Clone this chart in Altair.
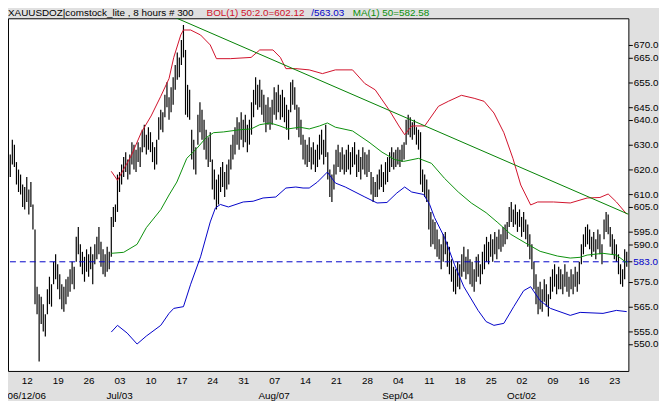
import altair as alt
import pandas as pd

# ---------------- data ----------------
HIGH = [
    626, 632, 630, 623, 620, 618, 614, 613, 617, 612,
    615, 606, 596, 573, 570, 569, 566, 562, 572, 577,
    574, 583, 586, 582, 578, 574, 573, 576, 577, 580,
    583, 581, 593, 597, 590, 587, 585, 588, 586, 589,
    586, 590, 593, 597, 591, 588, 586, 589, 587, 601,
    605, 606, 618, 619, 622, 625, 627, 624, 626, 631,
    630, 628, 631, 629, 636, 638, 634, 637, 635, 631,
    629, 632, 641, 644, 643, 650, 655, 649, 653, 657,
    662, 667, 665, 672, 678, 668, 654, 652, 636, 632,
    629, 642, 647, 644, 640, 636, 633, 635, 624, 620,
    616, 618, 621, 623, 619, 622, 624, 630, 634, 637,
    641, 639, 643, 640, 642, 638, 640, 647, 652, 657,
    654, 656, 652, 650, 646, 649, 645, 648, 653, 651,
    654, 650, 652, 649, 646, 644, 655, 656, 653, 646,
    645, 640, 634, 632, 630, 633, 629, 631, 628, 630,
    634, 636, 632, 638, 627, 620, 618, 622, 628, 630,
    627, 629, 626, 628, 630, 627, 629, 631, 626, 628,
    625, 629, 627, 626, 628, 619, 617, 615, 618, 620,
    622, 619, 623, 625, 627, 629, 627, 628, 629, 628,
    630, 631, 640, 642, 641, 639, 640, 637, 636, 635,
    620, 618, 616, 612, 603, 600, 599, 596, 592, 590,
    594, 595, 591, 589, 584, 581, 580, 583, 582, 586,
    589, 585, 588, 584, 583, 580, 585, 586, 582, 587,
    590, 593, 591, 594, 592, 595, 593, 596, 594, 597,
    598, 599, 605, 607, 604, 606, 603, 604, 601, 603,
    600, 598, 594, 590, 583, 578, 573, 575, 572, 576,
    574, 570, 577, 580, 582, 578, 581, 580, 578, 582,
    579, 577, 580, 578, 581, 579, 583, 590, 594, 597,
    598, 596, 593, 595, 592, 596, 594, 590, 600, 603,
    602, 597, 594, 592, 590, 586, 582, 580, 588, 587,
]
LOW = [
    617, 622, 621, 614, 611, 610, 605, 604, 607, 602,
    605, 596, 566, 562, 543, 558, 555, 553, 562, 566,
    565, 574, 576, 572, 568, 564, 563, 566, 569, 571,
    574, 572, 583, 586, 581, 578, 575, 579, 577, 580,
    574, 582, 584, 586, 581, 578, 577, 579, 580, 585,
    597, 599, 603, 611, 614, 617, 619, 616, 618, 622,
    620, 619, 623, 621, 627, 629, 626, 628, 627, 623,
    620, 622, 632, 636, 635, 641, 645, 640, 643, 646,
    652, 656, 657, 662, 665, 642, 641, 640, 624, 620,
    618, 630, 635, 632, 628, 624, 621, 623, 612, 608,
    604, 606, 611, 613, 609, 612, 614, 620, 624, 626,
    630, 628, 632, 629, 631, 627, 630, 634, 641, 646,
    644, 645, 642, 639, 635, 638, 636, 638, 642, 640,
    643, 640, 641, 639, 636, 632, 643, 646, 644, 636,
    633, 630, 624, 622, 621, 623, 620, 622, 619, 621,
    624, 626, 622, 625, 616, 609, 607, 612, 618, 621,
    619, 620, 618, 619, 620, 618, 621, 622, 617, 619,
    616, 620, 618, 617, 619, 610, 607, 609, 609, 612,
    613, 611, 614, 615, 619, 621, 620, 621, 622, 621,
    623, 624, 630, 634, 633, 632, 634, 630, 628, 614,
    611, 609, 607, 596, 589, 590, 588, 585, 584, 580,
    583, 586, 581, 578, 575, 571, 570, 573, 572, 577,
    579, 576, 578, 574, 573, 571, 575, 577, 574, 578,
    580, 583, 582, 585, 583, 586, 584, 588, 587, 589,
    590, 592, 597, 599, 597, 598, 595, 597, 593, 595,
    592, 589, 584, 580, 572, 566, 562, 564, 563, 567,
    565, 561, 568, 571, 573, 570, 572, 572, 570, 573,
    571, 569, 572, 570, 573, 571, 574, 582, 586, 589,
    590, 588, 585, 587, 584, 588, 586, 582, 592, 595,
    594, 589, 586, 584, 583, 578, 574, 573, 576, 581,
]

# Bollinger upper band (bar index, value)
UPPER_I = [49, 52, 58.7, 63.5, 68.3, 73, 77, 79.3, 82.7, 84, 87.5, 92.3, 97, 100,
           106.7, 116.8, 121, 127.4, 131, 133.7, 138.5, 145, 151.4, 157.7, 166, 172,
           177, 183.7, 188.5, 191.3, 194.7, 201, 207.7, 212.5, 218.8, 225, 229.8,
           234.6, 239.4, 243.8, 247.6, 252.4, 255.8, 263.5, 271.6, 279.8, 286, 290,
           294, 299]
UPPER_V = [619.3, 615.7, 625.6, 634.8, 641.5, 649.4, 656.5, 665, 674, 676, 676, 674,
           670, 664.5, 664.5, 665, 668, 668, 665, 660.5, 660.5, 660, 658.5, 660, 660,
           654.5, 652, 644, 637.5, 634, 637.5, 637.5, 645.4, 647.4, 649.8, 648.6,
           647.4, 642.7, 634.8, 624.5, 613.8, 605.8, 607, 607, 606.6, 608.6, 608.8,
           610.2, 607, 602.1]

# Bollinger lower band
LOWER_I = [49, 52, 56.7, 61.5, 66, 73, 77, 79.3, 84, 87.5, 92.3, 97, 99.5, 101.9,
           105.8, 113, 117.8, 122.6, 128.8, 133.7, 138.5, 142, 145, 149, 153.8,
           157.7, 162.5, 172, 177.9, 182.7, 187.5, 191.3, 194.7, 200.5, 203.4, 205.8,
           210.6, 215.4, 220, 226.9, 230.8, 234.6, 239.4, 244.2, 249, 252.4, 257,
           262, 271.6, 276.4, 287.5, 294, 299]
LOWER_V = [554.8, 557.5, 554.4, 550, 553.2, 557.5, 562.3, 564.3, 565, 574, 585, 599,
           604.6, 606, 605, 607, 607.3, 608.6, 609, 612.6, 613, 612.6, 612.6, 615,
           619, 614.6, 613, 609, 606.6, 606.8, 610.6, 613, 611, 610, 606, 600.7,
           592.8, 582, 573, 563.5, 559, 557.5, 558.3, 565, 571.4, 573, 567.4, 564.3,
           561.5, 562.7, 562.3, 563.5, 563.0]

# Moving average (50)
MA_I = [49, 55, 61.5, 66, 73, 77, 80.8, 85.6, 90.4, 95, 98.6, 103.4, 111.5, 116.8,
        121, 126, 130.8, 134.6, 140.4, 145, 150, 153.8, 157.7, 166, 174, 180.3,
        186.5, 190.9, 198, 204.3, 210.6, 217.3, 223.6, 230.8, 236.5, 242.8, 251,
        257, 265.4, 271.6, 276.4, 279.8, 287.5, 294, 299]
MA_V = [586.4, 586.8, 590, 596.7, 603.9, 609.8, 615, 624.5, 628.4, 632.8, 634.8,
        635.1, 636, 636.3, 638, 638.7, 637.5, 636.3, 637, 636.3, 637.5, 638.7, 637,
        635.5, 631, 627, 624, 623.3, 624.5, 622.5, 616.5, 611, 606.6, 602.7, 598.7,
        594, 590, 587.2, 585.3, 584.5, 584.8, 585.7, 586.4, 585.7, 582.6]

TREND_I = [80, 302]
TREND_V = [681.0, 601.3]
REF_LEVEL = [583.0]

WEEK_BARS = [8, 23, 38, 53, 68, 83, 98, 113, 128, 143,
             158, 173, 188, 203, 218, 233, 248, 263, 278, 293]
WEEK_LABELS = ["12", "19", "26", "03", "10", "17", "24", "31", "07", "14",
               "21", "28", "04", "11", "18", "25", "02", "09", "16", "23"]
MONTH_BARS = [8, 53, 128, 188, 248]
MONTH_LABELS = ["06/12/06", "Jul/03", "Aug/07", "Sep/04", "Oct/02"]

# price-axis labels (the 583.0 reference level is labelled separately, in blue)
Y_TICKS = [670, 665, 655, 645, 640, 630, 620, 610, 605, 595, 590, 575, 565, 555, 550]

HEADER = [
    ("XAUUSDOZ|comstock_lite , 8 hours  # 300", "black", 0),
    ("BOL(1) 50:2.0=602.12", "#d0102a", 201),
    ("/563.03", "#0000c8", 307),
    ("MA(1) 50=582.58", "#0a8f0a", 349),
]

FONT = "Liberation Sans"
RED = "#d0102a"
BLUE = "#0000c8"
GREEN = "#0a8f0a"
W = 628
H = 357

# ---------------- chart ----------------
bars = pd.DataFrame({"i": list(range(len(HIGH))), "h": HIGH, "l": LOW})
upper = pd.DataFrame({"i": UPPER_I, "v": UPPER_V})
lower = pd.DataFrame({"i": LOWER_I, "v": LOWER_V})
ma = pd.DataFrame({"i": MA_I, "v": MA_V})
trend = pd.DataFrame({"i": TREND_I, "v": TREND_V})
ref = pd.DataFrame({"v": REF_LEVEL})
months = pd.DataFrame({"i": MONTH_BARS, "t": MONTH_LABELS})

xs = alt.Scale(domain=[-1.1, 299.8], nice=False, zero=False)
ys = alt.Scale(domain=[539.2, 680.7], nice=False, zero=False)

bars_js = "[" + ",".join(str(b) for b in WEEK_BARS) + "]"
weeks_js = "[" + ",".join("'" + w + "'" for w in WEEK_LABELS) + "]"

xaxis = alt.Axis(
    values=WEEK_BARS,
    labelExpr=weeks_js + "[indexof(" + bars_js + ", datum.value)]",
    ticks=False, domain=False, grid=False,
    labelPadding=5, labelOverlap=False, labelFlush=False,
    labelFontSize=10, labelFont=FONT, labelColor="black", title=None,
)
yaxis = alt.Axis(
    values=Y_TICKS, orient="right", format=".1f",
    tickSize=4, tickColor="black", domain=False, grid=False,
    labelPadding=1, labelOverlap=False, labelFontSize=10, labelFont=FONT,
    labelColor="black", labelBound=False,
    title=None,
)


def X(field):
    return alt.X(field, scale=xs, axis=xaxis)


def Y(field):
    return alt.Y(field, scale=ys, axis=yaxis)


bar_layer = alt.Chart(bars).mark_rule(color="black", strokeWidth=1.2).encode(
    x=X("i:Q"), y=Y("l:Q"), y2="h:Q",
)


def line(df, color):
    return alt.Chart(df).mark_line(color=color, strokeWidth=1, clip=True).encode(
        x=X("i:Q"), y=Y("v:Q"),
    )


ref_layer = alt.Chart(ref).mark_rule(color=BLUE, strokeDash=[6, 4], strokeWidth=1).encode(
    y=Y("v:Q")
)

# blue tick + label for the reference level on the price axis
ref_tick = alt.Chart(ref).mark_rule(color="black", strokeWidth=1).encode(
    x=alt.value(W), x2=alt.value(W + 4), y=Y("v:Q")
)
ref_label = alt.Chart(ref).mark_text(
    fontSize=10, font=FONT, align="left", baseline="middle", color=BLUE
).encode(
    x=alt.value(W + 5), y=Y("v:Q"), text=alt.Text("v:Q", format=".1f")
)

month_layer = alt.Chart(months).mark_text(
    fontSize=10, font=FONT, baseline="middle", color="black"
).encode(
    x=X("i:Q"), y=alt.value(H + 25), text="t:N",
)

header_layers = []
for txt, col, px in HEADER:
    header_layers.append(
        alt.Chart(pd.DataFrame({"t": [txt]})).mark_text(
            fontSize=10, font=FONT, align="left", baseline="alphabetic", color=col
        ).encode(x=alt.value(px), y=alt.value(-2), text="t:N")
    )

chart = alt.layer(
    bar_layer,
    ref_layer,
    line(upper, RED),
    line(lower, BLUE),
    line(ma, GREEN),
    line(trend, "#008000"),
    ref_tick,
    ref_label,
    month_layer,
    *header_layers,
).properties(
    width=W,
    height=H,
    autosize=alt.AutoSizeParams(type="none"),
    padding={"left": 0, "top": 8, "right": 31, "bottom": 28},
    background="#e0e0e0",
).configure_view(
    stroke="black", strokeWidth=1, fill="white"
)

chart.save("out.html", embed_options={"renderer": "svg", "actions": False})
